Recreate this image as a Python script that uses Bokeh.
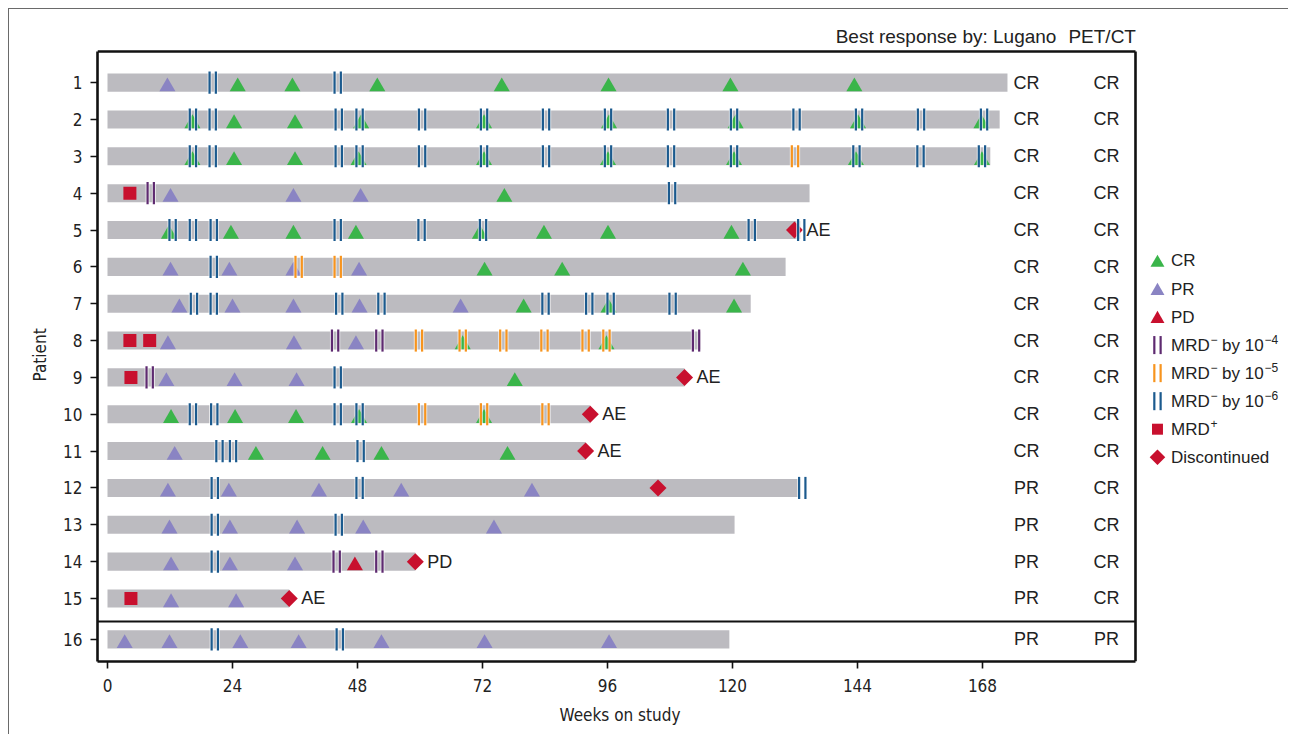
import math
from bokeh.plotting import figure
from bokeh.models import Range1d, FixedTicker, CustomJSTickFormatter, Title
from bokeh.core.properties import value
from bokeh.embed import file_html
from bokeh.resources import INLINE

# ---------------- data ----------------
PATIENTS = list(range(1, 17))
BAR_END = [172.8, 171.3, 169.5, 134.8, 133.0, 130.2, 123.5, 113.9,
           110.8, 92.7, 91.8, 133.0, 120.4, 59.1, 34.9, 119.4]
LUGANO = ["CR"] * 11 + ["PR"] * 5
PETCT = ["CR"] * 15 + ["PR"]
X_TICKS = [0, 24, 48, 72, 96, 120, 144, 168]

CR_WEEKS = {
    1: [25.0, 35.5, 51.8, 75.7, 96.2, 119.6, 143.4],
    2: [16.3, 24.3, 36.0, 48.7, 72.3, 96.3, 120.6, 144.1, 167.8],
    3: [16.3, 24.3, 36.0, 48.2, 72.3, 96.1, 120.3, 143.7, 167.9],
    4: [76.2],
    5: [11.8, 23.7, 35.7, 47.7, 71.5, 83.8, 96.1, 119.8],
    6: [72.4, 87.3, 122.0],
    7: [79.9, 96.2, 120.3],
    8: [68.2, 95.8],
    9: [78.2],
    10: [12.2, 24.5, 36.2, 48.3, 72.3],
    11: [28.5, 41.3, 52.6, 76.8],
}
PR_WEEKS = {
    1: [11.5],
    4: [12.1, 35.7, 48.6],
    6: [12.1, 23.4, 35.7, 48.3],
    7: [13.8, 24.0, 35.7, 48.4, 67.8],
    8: [11.6, 35.8, 47.7],
    9: [11.3, 24.4, 36.3],
    11: [12.9],
    12: [11.6, 23.3, 40.6, 56.4, 81.5],
    13: [11.9, 23.5, 36.4, 49.1, 74.2],
    14: [12.2, 23.5, 36.0],
    15: [12.2, 24.7],
    16: [3.3, 11.9, 25.5, 36.7, 52.6, 72.4, 96.3],
}
PD_WEEKS = {14: [47.5]}
MRD4_WEEKS = {4: [8.3], 8: [43.7, 52.2, 113.0], 9: [8.1], 14: [44.0, 52.2]}
MRD5_WEEKS = {3: [132.0], 6: [36.7, 44.2],
              8: [59.8, 68.2, 76.0, 83.9, 91.8, 95.8], 10: [60.4, 72.3, 84.1]}
MRD6_WEEKS = {
    1: [20.2, 44.2],
    2: [16.4, 20.2, 44.4, 48.4, 60.4, 72.3, 84.2, 96.1, 108.2, 120.3, 132.3, 144.3, 156.2, 168.3],
    3: [16.4, 20.2, 44.4, 48.4, 60.4, 72.3, 84.2, 96.1, 108.2, 120.3, 143.8, 156.1, 167.9],
    4: [108.4],
    5: [12.5, 16.4, 20.4, 44.2, 60.3, 72.1, 123.7, 133.2],
    6: [20.4],
    7: [16.6, 20.4, 44.5, 52.6, 84.1, 92.5, 96.6, 108.5],
    9: [44.2],
    10: [16.4, 20.5, 44.2, 48.4],
    11: [21.5, 24.1, 48.6],
    12: [20.6, 48.4, 133.4],
    13: [20.6, 44.4],
    14: [20.6],
    16: [20.6, 44.6],
}
MRDPOS_WEEKS = {4: [4.3], 8: [4.3, 8.1], 9: [4.5], 15: [4.5]}
DISC_PAT = [5, 9, 10, 11, 12, 14, 15]
DISC_WEEK = [131.9, 110.8, 92.7, 91.8, 105.7, 59.1, 34.9]
DISC_LABEL = ["AE", "AE", "AE", "AE", "", "PD", "AE"]

LEGEND_PLAIN = ["CR", "PR", "PD"]
MRD_EXPONENTS = ["−4", "−5", "−6"]

# ---------------- styling ----------------
C_BAR = "#bcbbc0"
C_CR = "#3ab54a"
C_PR = "#8a84c3"
C_RED = "#c8102e"
C_M4 = "#5e2a70"
C_M5 = "#f7941e"
C_M6 = "#1b5a8e"
TXT = "#222222"
FONT = "Liberation Sans"
NARROW = "'Liberation Sans Narrow', 'DejaVu Sans Condensed', 'Liberation Sans', sans-serif"


def ypos(pt):
    return pt if pt <= 15 else 16.11


def flatten(d):
    xs, ys = [], []
    for pt, wks in d.items():
        for w in wks:
            xs.append(w)
            ys.append(ypos(pt))
    return xs, ys


X0, X1 = -1.92, 226.95
BOX_R = 197.38
BOX_T = 0.157
Y_BOT = 16.71

p = figure(width=1280, height=726, output_backend="svg", toolbar_location=None,
           x_range=Range1d(X0, X1), y_range=Range1d(Y_BOT, -0.74),
           min_border_left=88, min_border_right=0, min_border_top=9,
           min_border_bottom=74)
p.styles = {"margin-left": "8px", "margin-top": "8px",
            "border-left": "1px solid #6a6a6a", "border-top": "1px solid #6a6a6a"}
p.outline_line_color = None
p.grid.visible = False

for ax in (p.xaxis[0], p.yaxis[0]):
    ax.axis_line_width = 2.6
    ax.axis_line_color = "#111111"
    ax.major_tick_line_width = 1.6
    ax.major_tick_line_color = "#111111"
    ax.major_tick_out = 7
    ax.major_tick_in = 0
    ax.minor_tick_line_color = None
    ax.major_label_text_font = NARROW
    ax.major_label_text_font_size = "17px"
    ax.major_label_text_color = TXT

p.xaxis.ticker = FixedTicker(ticks=X_TICKS)
p.xaxis.bounds = (X0, BOX_R)
p.xaxis.major_label_standoff = 10
p.yaxis.ticker = FixedTicker(ticks=[ypos(pt) for pt in PATIENTS])
p.yaxis.formatter = CustomJSTickFormatter(code="return String(Math.round(tick))")
p.yaxis.bounds = (BOX_T, Y_BOT)
p.yaxis.major_label_standoff = 8

p.add_layout(Title(text="Weeks on study", align="left", offset=462, standoff=16,
                   text_font=NARROW, text_font_size="17px",
                   text_font_style="normal", text_color=TXT), "below")
p.add_layout(Title(text="Patient", align="left", offset=280, standoff=22,
                   text_font=NARROW, text_font_size="17px",
                   text_font_style="normal", text_color=TXT), "left")

# box top/right, separator
p.segment(x0=[X0, BOX_R], y0=[BOX_T, BOX_T], x1=[BOX_R, BOX_R], y1=[BOX_T, Y_BOT],
          line_width=2.6, line_color="#111111")
p.segment(x0=[X0], y0=[15.625], x1=[BOX_R], y1=[15.625],
          line_width=2, line_color="#111111")

# bars
ys_all = [ypos(pt) for pt in PATIENTS]
p.hbar(y=ys_all, left=0, right=BAR_END, height=0.49, fill_color=C_BAR, line_color=None)

# triangles
TRI_DY = 0.11
for d, col in ((CR_WEEKS, C_CR), (PR_WEEKS, C_PR), (PD_WEEKS, C_RED)):
    xs, ys = flatten(d)
    p.scatter(xs, [y + TRI_DY for y in ys], marker="triangle", size=16,
              fill_color=col, line_color=None)

# MRD+ squares
xs, ys = flatten(MRDPOS_WEEKS)
p.scatter(xs, ys, marker="square", size=13, fill_color=C_RED, line_color=None)

# discontinued diamonds
p.scatter(DISC_WEEK, [ypos(pt) for pt in DISC_PAT], marker="square", angle=math.pi / 4,
          size=12, fill_color=C_RED, line_color=None)


# MRD- double lines
def pairs(xs, ys, half_h, dx=0.605):
    x0, y0, y1 = [], [], []
    for x, y in zip(xs, ys):
        for s in (-dx, dx):
            x0.append(x + s)
            y0.append(y - half_h)
            y1.append(y + half_h)
    return x0, y0, y1


for d, col in ((MRD4_WEEKS, C_M4), (MRD5_WEEKS, C_M5), (MRD6_WEEKS, C_M6)):
    xs, ys = flatten(d)
    x0, y0, y1 = pairs(xs, ys, 0.3)
    p.segment(x0=x0, y0=y0, x1=x0, y1=y1, line_width=4, line_color="white", line_alpha=0.7)
    p.segment(x0=x0, y0=y0, x1=x0, y1=y1, line_width=2.2, line_color=col)

# discontinuation labels
p.text(x=DISC_WEEK, y=[ypos(pt) for pt in DISC_PAT], text=DISC_LABEL, x_offset=12,
       text_align="left", text_baseline="middle", text_font=value(FONT),
       text_font_size="18px", text_color=TXT)

# response columns
p.text(x=[176.45] * 16, y=ys_all, text=LUGANO, text_align="center",
       text_baseline="middle", text_font=value(FONT), text_font_size="18px",
       text_color=TXT)
p.text(x=[191.8] * 16, y=ys_all, text=PETCT, text_align="center",
       text_baseline="middle", text_font=value(FONT), text_font_size="18px",
       text_color=TXT)

# header
p.text(x=[182.2], y=[-0.25], text=["Best response by: Lugano"], text_align="right",
       text_baseline="middle", text_font=value(FONT), text_font_size="19px",
       text_color=TXT)
p.text(x=[184.5], y=[-0.25], text=["PET/CT"], text_align="left",
       text_baseline="middle", text_font=value(FONT), text_font_size="19px",
       text_color=TXT)

# legend (drawn as glyphs)
LX, LTX = 201.6, 204.2
ly = [5.84 + i * 0.761 for i in range(8)]
p.scatter([LX] * 3, [y + 0.05 for y in ly[:3]], marker="triangle", size=14,
          fill_color=[C_CR, C_PR, C_RED], line_color=None)
for i, col in zip((3, 4, 5), (C_M4, C_M5, C_M6)):
    x0, y0, y1 = pairs([LX], [ly[i]], 0.245)
    p.segment(x0=x0, y0=y0, x1=x0, y1=y1, line_width=2.2, line_color=col)
p.scatter([LX], [ly[6]], marker="square", size=11, fill_color=C_RED, line_color=None)
p.scatter([LX], [ly[7]], marker="square", angle=math.pi / 4, size=11,
          fill_color=C_RED, line_color=None)

LEG_KW = dict(text_align="left", text_baseline="middle", text_font=value(FONT),
              text_color=TXT)
# plain legend labels
p.text(x=[LTX] * 3, y=ly[:3], text=LEGEND_PLAIN, text_font_size="17px", **LEG_KW)
p.text(x=[LTX], y=[ly[7]], text=["Discontinued"], text_font_size="17px", **LEG_KW)
# "MRD" stems (rows 3-6) with superscript signs
p.text(x=[LTX] * 4, y=ly[3:7], text=["MRD"] * 4, text_font_size="17px", **LEG_KW)
p.text(x=[LTX] * 4, y=ly[3:7], text=["−", "−", "−", "+"], x_offset=39.5, y_offset=-6,
       text_font_size="12px", **LEG_KW)
p.text(x=[LTX] * 3, y=ly[3:6], text=["by 10"] * 3, x_offset=51,
       text_font_size="17px", **LEG_KW)
p.text(x=[LTX] * 3, y=ly[3:6], text=MRD_EXPONENTS, x_offset=93.5, y_offset=-6,
       text_font_size="12px", **LEG_KW)

open("out.html", "w").write(file_html(p, INLINE))
